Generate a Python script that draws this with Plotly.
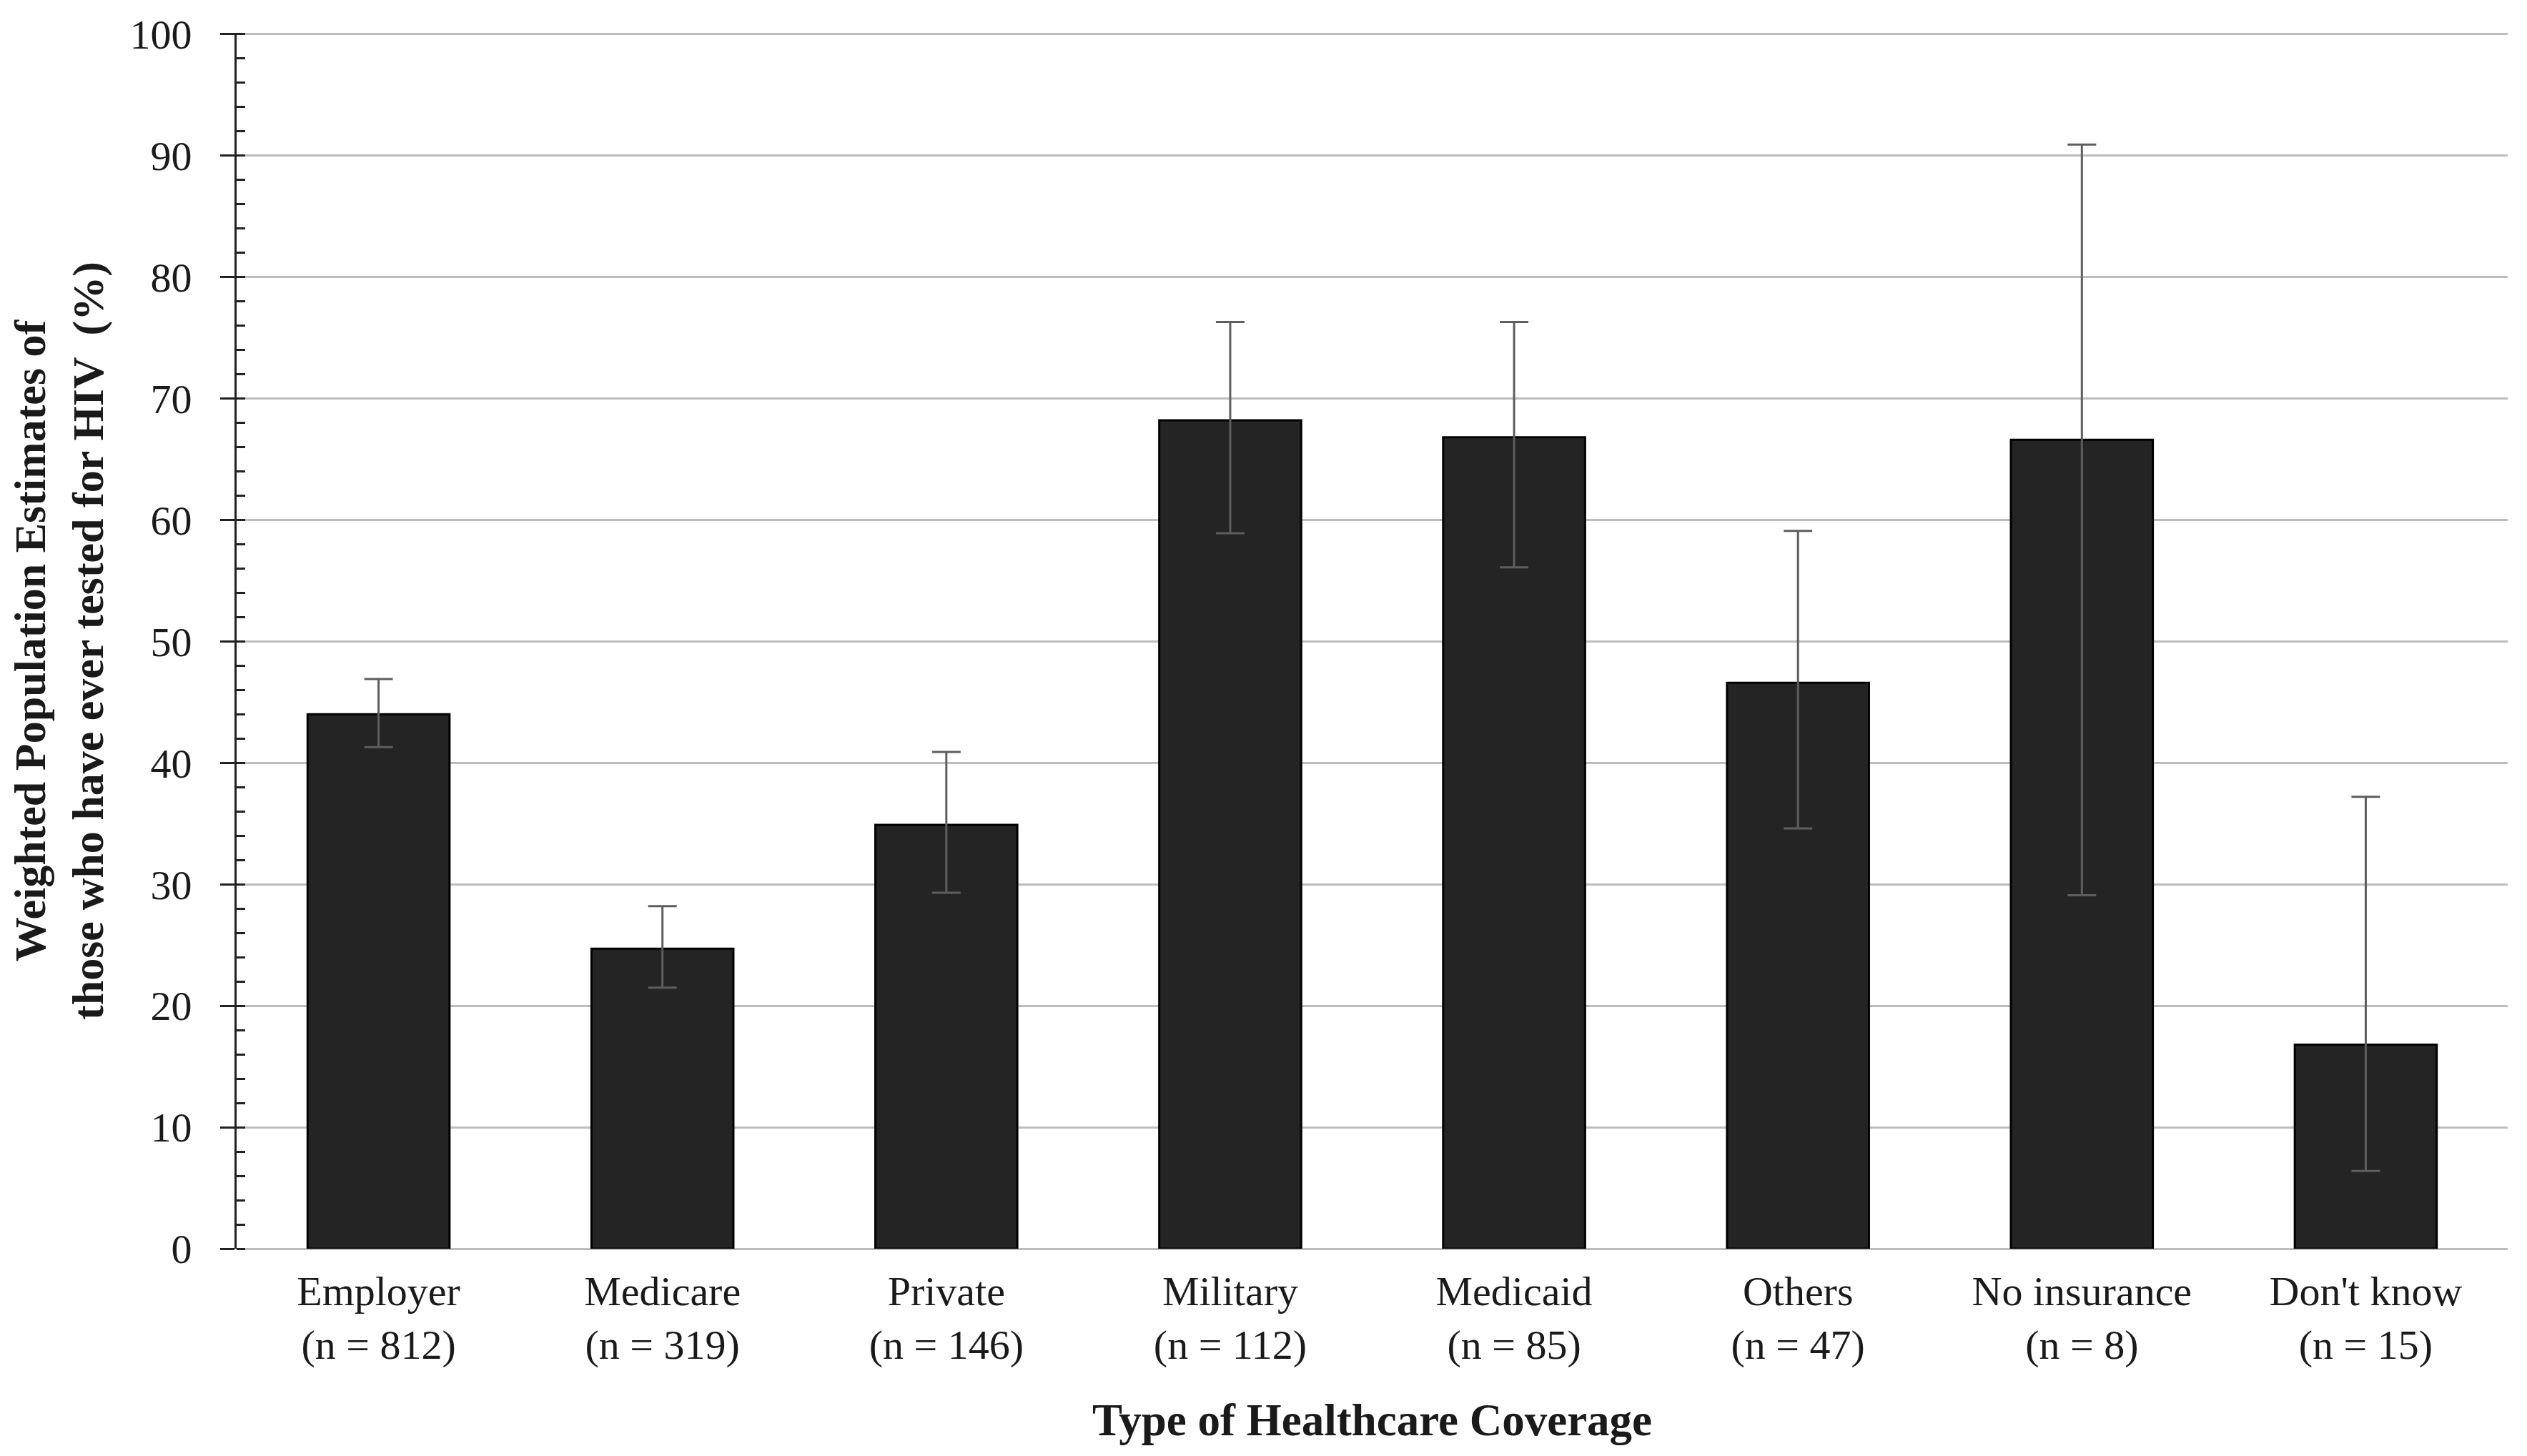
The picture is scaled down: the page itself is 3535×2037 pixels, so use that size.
import plotly.graph_objects as go

categories = ["Employer", "Medicare", "Private", "Military", "Medicaid", "Others", "No insurance", "Don't know"]
sample_sizes = [812, 319, 146, 112, 85, 47, 8, 15]
estimates = [44.0, 24.7, 34.9, 68.2, 66.8, 46.6, 66.6, 16.8]
ci_upper = [46.9, 28.2, 40.9, 76.3, 76.3, 59.1, 90.9, 37.2]
ci_lower = [41.3, 21.5, 29.3, 58.9, 56.1, 34.6, 29.1, 6.4]
y_ticks = [0, 10, 20, 30, 40, 50, 60, 70, 80, 90, 100]

tick_text = [f"{c}<br>(n = {n})" for c, n in zip(categories, sample_sizes)]
err_plus = [u - v for u, v in zip(ci_upper, estimates)]
err_minus = [v - l for v, l in zip(estimates, ci_lower)]

FONT = "Liberation Serif"

fig = go.Figure()
fig.add_trace(go.Bar(
    x=list(range(len(categories))),
    y=estimates,
    width=0.5,
    marker=dict(color="#242424", line=dict(color="#000000", width=3)),
    error_y=dict(type="data", symmetric=False, array=err_plus, arrayminus=err_minus,
                 color="#5e5e5e", thickness=3, width=20),
    showlegend=False,
))

fig.update_layout(
    width=3535, height=2037,
    margin=dict(l=323, r=35, t=38, b=298),
    paper_bgcolor="white", plot_bgcolor="white",
    font=dict(family=FONT, size=58, color="#1a1a1a"),
)

fig.update_xaxes(
    range=[-0.5, 7.5],
    tickmode="array", tickvals=list(range(len(categories))), ticktext=tick_text,
    ticks="", showline=False, showgrid=False, zeroline=False,
    tickfont=dict(family=FONT, size=58, color="#1a1a1a"),
    ticklabelstandoff=20,
    title=dict(text="<b>Type of Healthcare Coverage</b>", font=dict(family=FONT, size=63, color="#1a1a1a"),
               standoff=50),
    automargin=False,
)

fig.update_yaxes(
    range=[0, 100.1],
    tickmode="array", tickvals=y_ticks,
    ticks="outside", ticklen=20, tickwidth=3, tickcolor="#222222",
    minor=dict(dtick=2, tick0=0, ticks="inside", ticklen=12, tickwidth=3, tickcolor="#222222", showgrid=False),
    showline=True, linecolor="#222222", linewidth=3,
    showgrid=True, gridcolor="#bdbdbd", gridwidth=3,
    zeroline=True, zerolinecolor="#bdbdbd", zerolinewidth=3,
    tickfont=dict(family=FONT, size=58, color="#1a1a1a"),
    ticklabelstandoff=28,
    ticklabeloverflow="allow",
    title=dict(text="<b>Weighted Population Estimates of<br>those who have ever tested for HIV \u00a0(%)</b>",
               font=dict(family=FONT, size=62, color="#1a1a1a"), standoff=60),
    automargin=False,
)

fig.write_html("out.html")
